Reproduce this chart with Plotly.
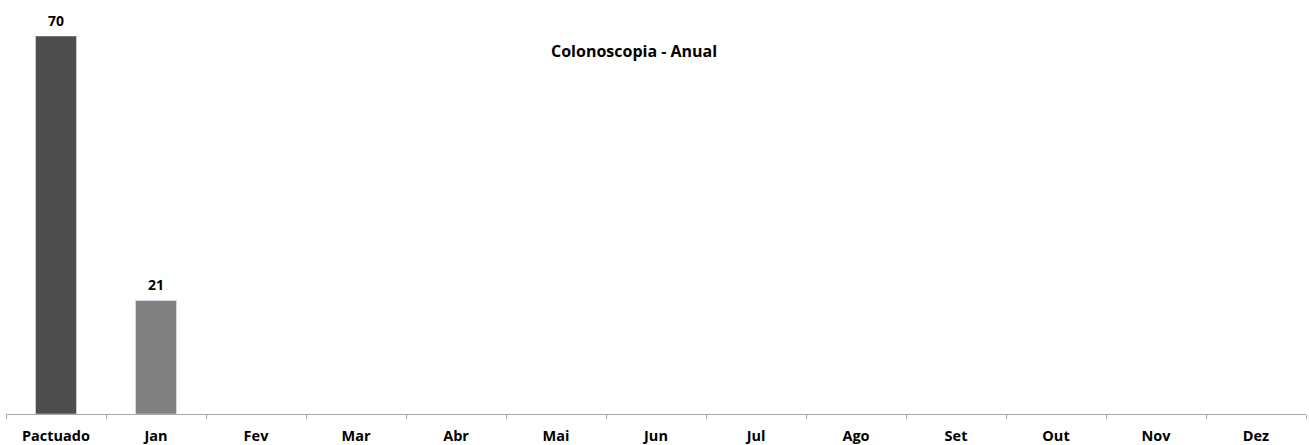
import plotly.graph_objects as go

categories = ["Pactuado", "Jan", "Fev", "Mar", "Abr", "Mai", "Jun", "Jul", "Ago", "Set", "Out", "Nov", "Dez"]
values = [70, 21, None, None, None, None, None, None, None, None, None, None, None]
bar_colors = ["#4d4d4d", "#808080"] + ["#808080"] * 11
title_text = "Colonoscopia - Anual"

FONT = "Open Sans"

fig = go.Figure(go.Bar(
    x=categories, y=values, marker_color=bar_colors, width=0.41,
))

for c, v in zip(categories, values):
    if v is not None:
        fig.add_annotation(
            x=c, y=v, xref="x", yref="y", text="<b>%d</b>" % v,
            showarrow=False, yanchor="middle", yshift=16,
            font=dict(family=FONT, size=14, color="#000000"),
        )

H_TOP, H_BOT = 36, 31
fig.update_layout(
    width=1309, height=445,
    margin=dict(l=6, r=3, t=H_TOP, b=H_BOT, autoexpand=False),
    plot_bgcolor="white", paper_bgcolor="white",
    showlegend=False,
    font=dict(family=FONT, size=14, color="#000000"),
)
fig.add_annotation(
    text="<b>" + title_text + "</b>", x=(634 - 6) / (1309 - 9), xref="paper", yref="paper",
    y=1 - (51 - H_TOP) / (445 - H_TOP - H_BOT), yanchor="middle", xanchor="center",
    showarrow=False, font=dict(family=FONT, size=16, color="#000000"),
)
fig.update_xaxes(
    showline=True, linecolor="#a6a6a6", linewidth=1,
    ticks="outside", tickson="boundaries", tickcolor="#a6a6a6", ticklen=4,
    tickfont=dict(family=FONT, size=14.5, color="#000000"),
    tickprefix="<b>", ticksuffix="</b>", ticklabelstandoff=9,
    showgrid=False,
)
fig.update_yaxes(range=[0, 70], visible=False, showgrid=False)

fig.write_html("out.html", config={"displayModeBar": False},
               post_script="document.body.style.margin='0';")
